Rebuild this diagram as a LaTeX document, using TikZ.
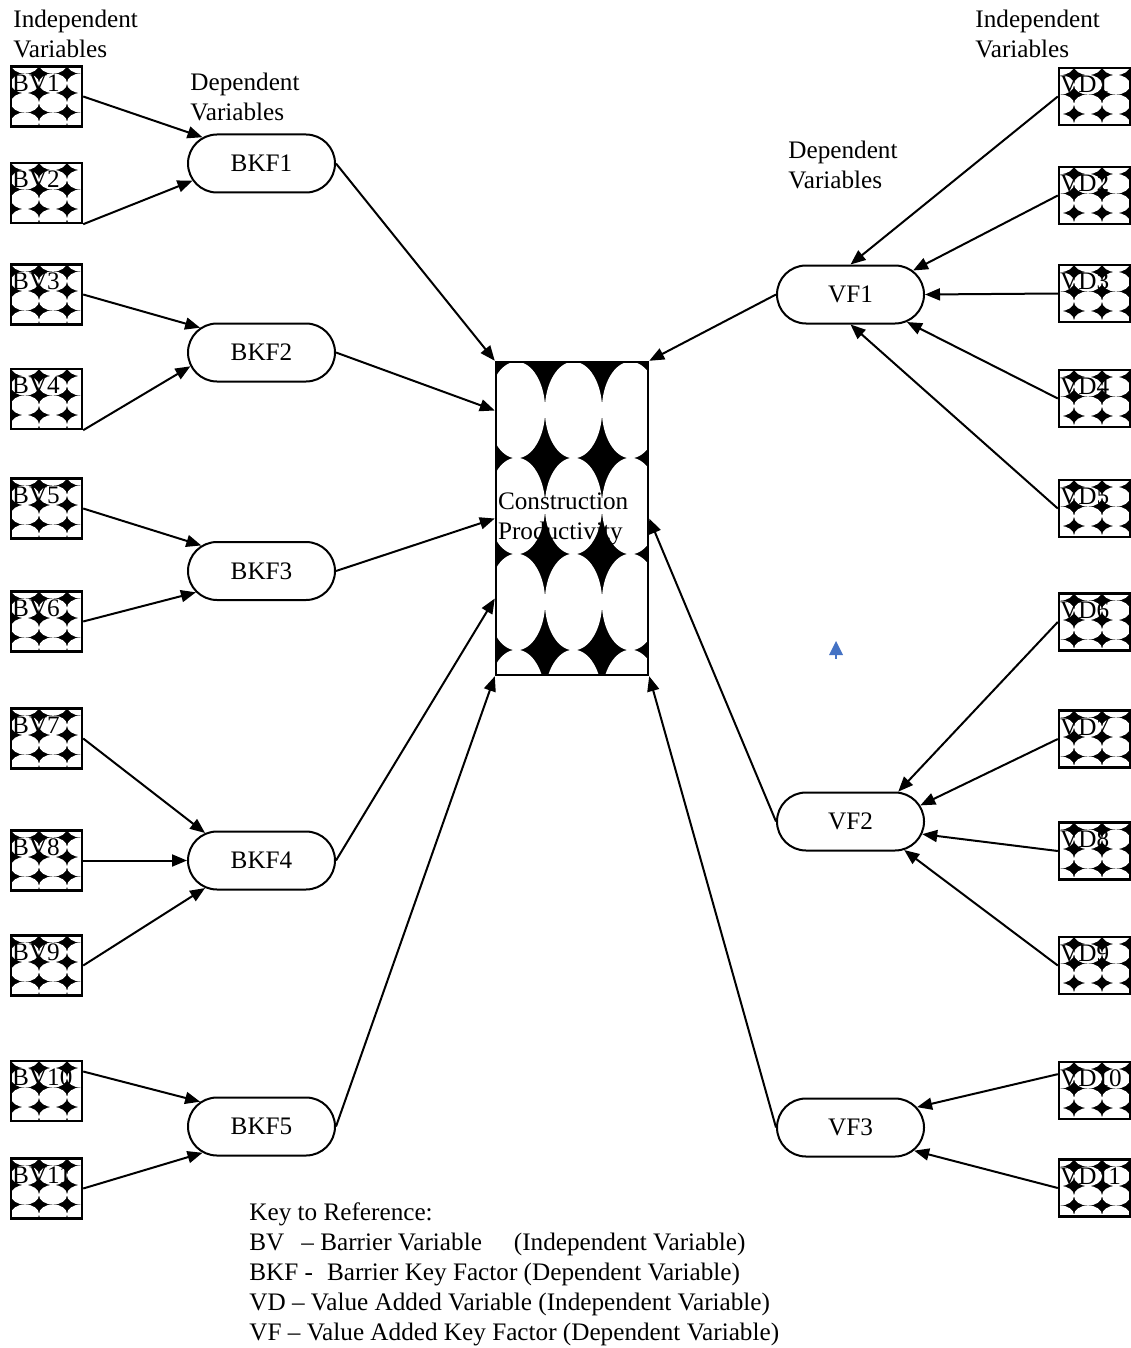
\documentclass[tikz,border=0pt,12pt]{standalone}
\usepackage{fontspec}
\setmainfont{Liberation Serif}
\usetikzlibrary{arrows.meta, positioning, shapes.misc}
\definecolor{markblue}{RGB}{68,114,196}

\begin{document}
\begin{tikzpicture}[
  x=0.5pt, y=-0.5pt,
  font=\fontsize{12.6}{15}\selectfont,
  ovals/.style n args={4}{path picture={
    \fill[black] (path picture bounding box.south west) rectangle (path picture bounding box.north east);
    \foreach \row in {-1,...,6}{
      \foreach \col in {-1,...,3}{
        \fill[white] ([shift={(\col*#1+#1/2+#3, -(\row*#2+#2/2+#4))}]path picture bounding box.north west)
          ellipse [x radius=0.503*#1, y radius=0.503*#2];
      }
    }
  }},
  varbox/.style={draw, line width=1.2pt, minimum width=35.5pt, minimum height=30pt, inner sep=0pt},
  bvbox/.style={varbox, ovals={14pt}{9.75pt}{0pt}{3.5pt}},
  vdbox/.style={varbox, minimum height=28.5pt, ovals={14pt}{9.75pt}{-6.5pt}{3.5pt}},
  tag/.style={anchor=north west, inner sep=0pt, xshift=1pt, yshift=-4.5pt},
  factor/.style={draw, rounded rectangle, line width=1pt, minimum width=81.5pt, minimum height=29pt},
  core/.style={draw, line width=1.2pt, minimum width=76pt, minimum height=156.5pt,
               ovals={28.5pt}{48pt}{-4pt}{0pt}, text width=74pt, align=left, inner xsep=1pt},
  arr/.style={-{Triangle[length=7.5pt, width=6pt]}, line width=1pt},
  note/.style={anchor=north west, inner sep=0pt, align=left}
]
\useasboundingbox (0,0) rectangle (1130,1348);

% headings
\node[note] (indl) at (13,10) {Independent\\Variables};
\node[note] (depl) at (190,73) {Dependent\\Variables};
\node[note] (indr) at (975,10) {Independent\\Variables};
\node[note] (depr) at (788,141) {Dependent\\Variables};

% barrier variables
\node[bvbox, label={[tag]north west:BV1}] (bv1) at (46.5,96.5) {};
\node[bvbox, label={[tag]north west:BV2}] (bv2) at (46.5,193) {};
\node[bvbox, label={[tag]north west:BV3}] (bv3) at (46.5,294.5) {};
\node[bvbox, label={[tag]north west:BV4}] (bv4) at (46.5,399) {};
\node[bvbox, label={[tag]north west:BV5}] (bv5) at (46.5,508.5) {};
\node[bvbox, label={[tag]north west:BV6}] (bv6) at (46.5,621.5) {};
\node[bvbox, label={[tag]north west:BV7}] (bv7) at (46.5,738.5) {};
\node[bvbox, label={[tag]north west:BV8}] (bv8) at (46.5,860.5) {};
\node[bvbox, label={[tag]north west:BV9}] (bv9) at (46.5,965.5) {};
\node[bvbox, label={[tag]north west:BV10}] (bv10) at (46.5,1091) {};
\node[bvbox, label={[tag]north west:BV11}] (bv11) at (46.5,1188.5) {};

% value added variables
\node[vdbox, label={[tag]north west:VD1}] (vd1) at (1094.5,96.5) {};
\node[vdbox, label={[tag]north west:VD2}] (vd2) at (1094.5,195.5) {};
\node[vdbox, label={[tag]north west:VD3}] (vd3) at (1094.5,293.5) {};
\node[vdbox, label={[tag]north west:VD4}] (vd4) at (1094.5,398.5) {};
\node[vdbox, label={[tag]north west:VD5}] (vd5) at (1094.5,508.5) {};
\node[vdbox, label={[tag]north west:VD6}] (vd6) at (1094.5,622) {};
\node[vdbox, label={[tag]north west:VD7}] (vd7) at (1094.5,739) {};
\node[vdbox, label={[tag]north west:VD8}] (vd8) at (1094.5,851) {};
\node[vdbox, label={[tag]north west:VD9}] (vd9) at (1094.5,965.5) {};
\node[vdbox, label={[tag]north west:VD10}] (vd10) at (1094.5,1090.5) {};
\node[vdbox, label={[tag]north west:VD11}] (vd11) at (1094.5,1188) {};

% key factors
\node[factor] (bkf1) at (261.5,163.5) {BKF1};
\node[factor] (bkf2) at (261.5,352.5) {BKF2};
\node[factor] (bkf3) at (261.5,571) {BKF3};
\node[factor] (bkf4) at (261.5,860.5) {BKF4};
\node[factor] (bkf5) at (261.5,1126.5) {BKF5};
\node[factor] (vf1) at (850.5,294.5) {VF1};
\node[factor] (vf2) at (850.5,821.5) {VF2};
\node[factor] (vf3) at (850.5,1127.5) {VF3};

\node[core] (cp) at (572,518.5) {Construction\\Productivity};

% barrier side
\draw[arr] (bv1.east) -- (bkf1.156);
\draw[arr] (bv2.south east) -- (bkf1.194);
\draw[arr] (bv3.east) -- (bkf2.158);
\draw[arr] (bv4.south east) -- (bkf2.191);
\draw[arr] (bv5.east) -- (bkf3.157);
\draw[arr] (bv6.east) -- (bkf3.198);
\draw[arr] (bv7.east) -- (bkf4.154);
\draw[arr] (bv8.east) -- (bkf4.west);
\draw[arr] (bv9.east) -- (bkf4.206);
\draw[arr] (bv10.28) -- (bkf5.158);
\draw[arr] (bv11.east) -- (bkf5.204);

\draw[arr] (bkf1.east) -- (cp.north west);
\draw[arr] (bkf2.east) -- ([yshift=54pt]cp.west);
\draw[arr] (bkf3.east) -- (cp.west);
\draw[arr] (bkf4.east) -- ([yshift=-40pt]cp.west);
\draw[arr] (bkf5.east) -- (cp.south west);

% value added side
\draw[arr] (vd1.west) -- (vf1.north);
\draw[arr] (vd2.west) -- (vf1.21);
\draw[arr] (vd3.west) -- (vf1.east);
\draw[arr] (vd4.west) -- (vf1.334);
\draw[arr] (vd5.west) -- (vf1.south);
\draw[arr] (vd6.west) -- (vf2.32);
\draw[arr] (vd7.west) -- (vf2.13);
\draw[arr] (vd8.west) -- (vf2.350);
\draw[arr] (vd9.west) -- (vf2.332);
\draw[arr] (vd10.156) -- (vf3.17);
\draw[arr] (vd11.west) -- (vf3.340);

\draw[arr] (vf1.west) -- (cp.north east);
\draw[arr] (vf2.west) -- (cp.east);
\draw[arr] (vf3.west) -- (cp.south east);

% stray mark
\fill[markblue] (836,641) -- (843,655) -- (829,655) -- cycle;
\draw[markblue, line width=1pt] (836,655) -- (836,659);

% key
\node[note] (key) at (249,1202) {Key to Reference:\\
  BV\hspace{8.5pt}\textendash{} Barrier Variable\hspace{16pt}(Independent Variable)\\
  BKF -\hspace{7pt}Barrier Key Factor (Dependent Variable)\\
  VD \textendash{} Value Added Variable (Independent Variable)\\
  VF \textendash{} Value Added Key Factor (Dependent Variable)};
\end{tikzpicture}
\end{document}
